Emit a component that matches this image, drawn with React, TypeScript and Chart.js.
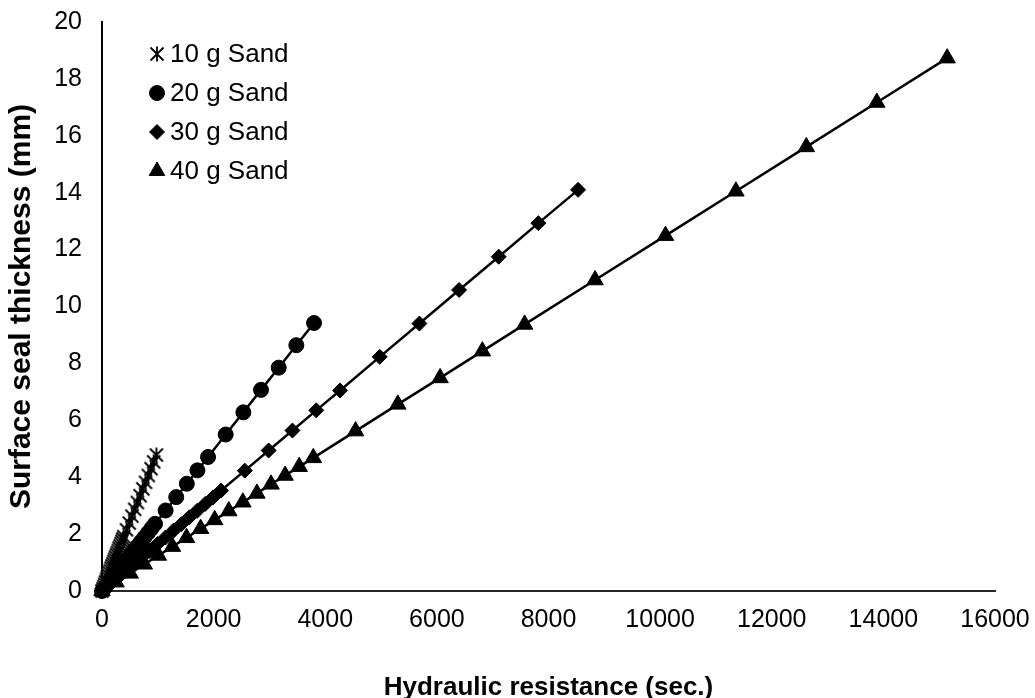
import React, { useEffect, useRef } from 'react';
import { Chart, registerables } from 'chart.js';
import { drawPoint } from 'chart.js/helpers';

Chart.register(...registerables);

const FONT = '"Liberation Sans", Arial, Helvetica, sans-serif';

const seriesNames = ['10 g Sand', '20 g Sand', '30 g Sand', '40 g Sand'];

const xTickMin = 0;
const xTickMax = 16000;
const xTickStep = 2000;
const yTickMin = 0;
const yTickMax = 20;
const yTickStep = 2;

const xTitle = 'Hydraulic resistance (sec.)';
const yTitle = 'Surface seal thickness (mm)';

const sand10X = [0, 16, 33, 49, 65, 81, 98, 114, 130, 146, 163, 179, 195, 211, 228, 244, 260, 276, 293, 309, 325, 341, 358, 374, 390, 439, 488, 536, 585, 634, 683, 731, 780, 829, 878, 926, 975];
const sand10Y = [0, 0.08, 0.16, 0.24, 0.32, 0.40, 0.48, 0.56, 0.64, 0.72, 0.80, 0.88, 0.96, 1.04, 1.12, 1.20, 1.28, 1.35, 1.43, 1.51, 1.59, 1.67, 1.75, 1.83, 1.91, 2.15, 2.39, 2.63, 2.87, 3.11, 3.35, 3.59, 3.82, 4.06, 4.30, 4.54, 4.78];

const sand20X = [0, 63, 127, 190, 253, 317, 380, 443, 507, 570, 633, 697, 760, 823, 886, 950, 1140, 1330, 1520, 1710, 1900, 2216, 2533, 2849, 3166, 3482, 3799];
const sand20Y = [0, 0.16, 0.31, 0.47, 0.63, 0.79, 0.94, 1.10, 1.26, 1.41, 1.57, 1.73, 1.88, 2.04, 2.20, 2.36, 2.83, 3.30, 3.77, 4.24, 4.71, 5.50, 6.28, 7.07, 7.85, 8.64, 9.42];

const sand30X = [0, 142, 284, 427, 569, 711, 853, 995, 1138, 1280, 1422, 1564, 1706, 1849, 1991, 2133, 2559, 2986, 3412, 3839, 4265, 4976, 5687, 6398, 7108, 7819, 8530];
const sand30Y = [0, 0.24, 0.47, 0.71, 0.94, 1.18, 1.41, 1.65, 1.88, 2.12, 2.35, 2.59, 2.82, 3.06, 3.29, 3.53, 4.23, 4.94, 5.64, 6.35, 7.05, 8.23, 9.40, 10.58, 11.75, 12.93, 14.10];

const sand40X = [0, 252, 505, 757, 1010, 1262, 1514, 1767, 2019, 2272, 2524, 2776, 3029, 3281, 3534, 3786, 4543, 5300, 6058, 6815, 7572, 8834, 10096, 11358, 12620, 13882, 15143];
const sand40Y = [0, 0.31, 0.62, 0.94, 1.25, 1.56, 1.87, 2.19, 2.50, 2.81, 3.12, 3.43, 3.75, 4.06, 4.37, 4.68, 5.62, 6.56, 7.49, 8.43, 9.37, 10.93, 12.49, 14.05, 15.61, 17.17, 18.73];

function toPoints(xs: number[], ys: number[]) {
  return xs.map((x, i) => ({ x, y: ys[i] }));
}

function makeStar(size: number) {
  const c = document.createElement('canvas');
  c.width = size;
  c.height = size;
  const g = c.getContext('2d')!;
  g.strokeStyle = '#000';
  g.lineWidth = 1.8;
  const m = size / 2;
  const d = size / 2 - 1.5;
  g.beginPath();
  g.moveTo(m - d, m - d);
  g.lineTo(m + d, m + d);
  g.moveTo(m + d, m - d);
  g.lineTo(m - d, m + d);
  g.moveTo(m, 0.5);
  g.lineTo(m, size - 0.5);
  g.stroke();
  return c;
}

export default function App() {
  const ref = useRef<HTMLCanvasElement>(null);

  useEffect(() => {
    const canvas = ref.current;
    if (!canvas) return;
    const star = makeStar(16);
    const legendStar = makeStar(16);

    const styles: any[] = [
      { pointStyle: star, radius: 8, legendStyle: legendStar, legendRadius: 7 },
      { pointStyle: 'circle', radius: 7.5, legendStyle: 'circle', legendRadius: 7.5 },
      { pointStyle: 'rectRot', radius: 7.5, legendStyle: 'rectRot', legendRadius: 7.5 },
      { pointStyle: 'triangle', radius: 9.5, legendStyle: 'triangle', legendRadius: 9 },
    ];
    const series = [
      toPoints(sand10X, sand10Y),
      toPoints(sand20X, sand20Y),
      toPoints(sand30X, sand30Y),
      toPoints(sand40X, sand40Y),
    ];

    const legendPlugin = {
      id: 'insideLegend',
      afterDatasetsDraw(chart: any) {
        const ctx = chart.ctx as CanvasRenderingContext2D;
        ctx.save();
        ctx.font = `26px ${FONT}`;
        ctx.textBaseline = 'middle';
        ctx.textAlign = 'left';
        ctx.fillStyle = '#000';
        ctx.strokeStyle = '#000';
        ctx.lineWidth = 1;
        seriesNames.forEach((name, i) => {
          const y = 54 + i * 39;
          const s = styles[i];
          drawPoint(ctx, { pointStyle: s.legendStyle, radius: s.legendRadius, rotation: 0, borderWidth: 1 } as any, 157, y);
          ctx.fillStyle = '#000';
          ctx.fillText(name, 170, y + 1);
        });
        ctx.restore();
      },
    };

    const chart = new Chart(canvas, {
      type: 'scatter',
      data: {
        datasets: series.map((pts, i) => ({
          label: seriesNames[i],
          data: pts,
          showLine: true,
          borderColor: '#000',
          borderWidth: 2.5,
          backgroundColor: '#000',
          pointStyle: styles[i].pointStyle,
          pointRadius: styles[i].radius,
          pointBackgroundColor: '#000',
          pointBorderColor: '#000',
          pointBorderWidth: 1,
          clip: false as any,
        })),
      },
      options: {
        responsive: false,
        animation: false,
        devicePixelRatio: 1,
        layout: { padding: { left: 0, top: 22, right: 40, bottom: 0 } },
        plugins: {
          legend: { display: false },
          tooltip: { enabled: false },
        },
        scales: {
          x: {
            type: 'linear',
            min: xTickMin,
            max: xTickMax,
            ticks: {
              stepSize: xTickStep,
              color: '#000',
              font: { family: FONT, size: 25 },
              padding: 14,
              maxRotation: 0,
              autoSkip: false,
              callback: (v: any) => String(v),
            },
            grid: { display: false, drawTicks: false },
            border: { display: true, color: '#262626', width: 2 },
            title: {
              display: true,
              text: xTitle,
              color: '#000',
              font: { family: FONT, size: 26, weight: 'bold', lineHeight: 0.8 },
              padding: { top: 0, bottom: 0 },
            },
            afterFit: (s: any) => {
              s.height = 107;
              s.paddingLeft = 0;
              s.paddingRight = 0;
            },
          },
          y: {
            type: 'linear',
            min: yTickMin,
            max: yTickMax,
            ticks: {
              stepSize: yTickStep,
              color: '#000',
              font: { family: FONT, size: 25 },
              padding: 20,
              autoSkip: false,
              callback: (v: any) => String(v),
            },
            grid: { display: false, drawTicks: false },
            border: { display: true, color: '#000', width: 2 },
            title: {
              display: true,
              text: yTitle,
              color: '#000',
              font: { family: FONT, size: 30, weight: 'bold', lineHeight: 0.8 },
              padding: { top: 10, bottom: 0 },
            },
            afterFit: (s: any) => {
              s.width = 102;
              s.paddingTop = 0;
              s.paddingBottom = 0;
            },
          },
        },
      } as any,
      plugins: [legendPlugin],
    });

    return () => {
      chart.destroy();
    };
  }, []);

  return (
    <div style={{ position: 'absolute', left: 0, top: 0, width: 1035, height: 698, background: '#fff' }}>
      <canvas ref={ref} width={1035} height={698} style={{ display: 'block', width: 1035, height: 698 }} />
    </div>
  );
}
